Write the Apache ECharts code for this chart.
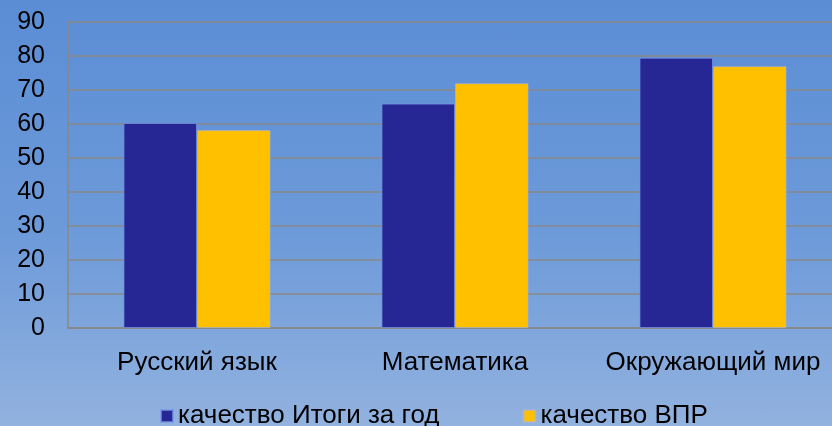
<!DOCTYPE html>
<html><head><meta charset="utf-8">
<script src="https://cdn.jsdelivr.net/npm/echarts@6/dist/echarts.min.js"></script>
<style>html,body{margin:0;padding:0;overflow:hidden;width:832px;height:426px;background:linear-gradient(to bottom,#5b8dd5 0%,#6d9ad9 55%,#92b2df 100%);}#c{width:842px;height:426px;}</style>
</head><body><div id="c"></div>
<script>
var categories = ['Русский язык', 'Математика', 'Окружающий мир'];
var seriesNames = ['качество Итоги за год', 'качество ВПР'];
var yearValues = [60.3, 66, 79.5];
var vprValues = [58.2, 72, 77];
var yTicks = {min: 0, max: 90, interval: 10};

var chart = echarts.init(document.getElementById('c'), null, {renderer: 'canvas'});
var font = 'Arial, "Liberation Sans", sans-serif';
chart.setOption({
  backgroundColor: 'transparent',
  animation: false,
  grid: {left: 68, right: 0, top: 22, bottom: 98, containLabel: false},
  legend: {
    top: 398, left: 155, itemWidth: 12, itemHeight: 12, itemGap: 83,
    icon: 'rect',
    textStyle: {fontFamily: font, fontSize: 26, color: '#000'},
    data: seriesNames
  },
  xAxis: {
    type: 'category', data: categories,
    axisLine: {lineStyle: {color: '#888', width: 1.5}},
    axisTick: {show: false},
    axisLabel: {fontFamily: font, fontSize: 26, color: '#000', margin: 22, interval: 0}
  },
  yAxis: {
    type: 'value', min: yTicks.min, max: yTicks.max, interval: yTicks.interval,
    axisLine: {show: true, lineStyle: {color: '#888', width: 1.5}},
    axisTick: {show: false},
    splitLine: {lineStyle: {color: '#888', width: 1.5}},
    axisLabel: {fontFamily: font, fontSize: 25, color: '#000', margin: 23}
  },
  series: [
    {name: seriesNames[0], type: 'bar', data: yearValues, barGap: '0%', barCategoryGap: '43%',
     itemStyle: {color: '#262795', borderColor: 'rgba(120,150,230,0.7)', borderWidth: 1}},
    {name: seriesNames[1], type: 'bar', data: vprValues,
     itemStyle: {color: '#FFC000', borderColor: 'rgba(170,180,220,0.6)', borderWidth: 1}}
  ]
});
</script></body></html>
